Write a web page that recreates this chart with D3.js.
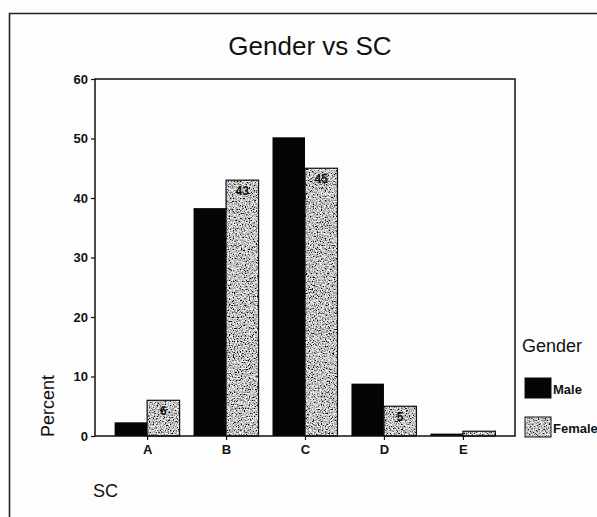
<!DOCTYPE html>
<html>
<head>
<meta charset="utf-8">
<script src="https://cdn.jsdelivr.net/npm/d3@7"></script>
<style>
  html, body { margin: 0; padding: 0; background: #fdfdfd; }
  svg { display: block; }
  text { font-family: Arial, "Liberation Sans", sans-serif; fill: #111; }
</style>
</head>
<body>
<script>
// Percent of each gender in each SC grade
const categories = ["A", "B", "C", "D", "E"];
const series = ["Male", "Female"];
const maleValues = [2.3, 38.3, 50.2, 8.8, 0.4];
const femaleValues = [6, 43, 45, 5, 0.8];
const femaleLabels = ["6", "43", "45", "5", null];
const yTicks = [0, 10, 20, 30, 40, 50, 60];

const W = 597, H = 517;
const plot = { left: 95, right: 515, top: 79, bottom: 436 };

const svg = d3.select("body").append("svg")
  .attr("width", W).attr("height", H);

// grainy grey fill for the Female bars
const defs = svg.append("defs");
const f = defs.append("filter").attr("id", "grain")
  .attr("filterUnits", "userSpaceOnUse")
  .attr("x", 0).attr("y", 0).attr("width", W).attr("height", H);
f.append("feTurbulence").attr("type", "fractalNoise")
  .attr("baseFrequency", 0.75).attr("numOctaves", 2).attr("seed", 7).attr("result", "noise");
f.append("feColorMatrix").attr("type", "matrix")
  .attr("values", "2.6 0 0 0 -0.76  2.6 0 0 0 -0.76  2.6 0 0 0 -0.76  0 0 0 0 1");
const pat = defs.append("pattern").attr("id", "femaleFill")
  .attr("patternUnits", "userSpaceOnUse").attr("width", W).attr("height", H);
pat.append("rect").attr("width", W).attr("height", H).attr("fill", "#999")
  .attr("filter", "url(#grain)");

// outer frame (left and top edges)
svg.append("path")
  .attr("d", `M9.5,${H} V13.5 H${W}`)
  .attr("fill", "none").attr("stroke", "#222").attr("stroke-width", 1.6);

svg.append("text")
  .attr("x", 310).attr("y", 55)
  .attr("text-anchor", "middle")
  .attr("font-size", 26)
  .text("Gender vs SC");

const x = d3.scalePoint().domain(categories)
  .range([plot.left, plot.right]).padding(0.66);
const y = d3.scaleLinear().domain([0, 60]).range([plot.bottom, plot.top]);
const barW = 32.5;

// axes
const yAxis = svg.append("g")
  .attr("transform", `translate(${plot.left},0)`)
  .call(d3.axisLeft(y).tickValues(yTicks).tickSize(4).tickPadding(3));
const xAxis = svg.append("g")
  .attr("transform", `translate(0,${plot.bottom})`)
  .call(d3.axisBottom(x).tickSize(4).tickPadding(5));
[yAxis, xAxis].forEach(g => {
  g.select(".domain").remove();
  g.selectAll("line").attr("stroke", "#111").attr("stroke-width", 1.2);
  g.selectAll("text").attr("font-size", 13).attr("font-weight", "bold")
    .attr("font-family", "Arial, 'Liberation Sans', sans-serif").attr("fill", "#111");
});

// bars
const rows = categories.map((c, i) => ({ c, male: maleValues[i], female: femaleValues[i], label: femaleLabels[i] }));

svg.append("g").selectAll("rect").data(rows).join("rect")
  .attr("x", d => x(d.c) - barW)
  .attr("y", d => y(d.male))
  .attr("width", barW)
  .attr("height", d => y(0) - y(d.male))
  .attr("fill", "#050505");

svg.append("g").selectAll("rect").data(rows).join("rect")
  .attr("x", d => x(d.c))
  .attr("y", d => y(d.female))
  .attr("width", barW)
  .attr("height", d => y(0) - y(d.female))
  .attr("fill", "url(#femaleFill)")
  .attr("stroke", "#111").attr("stroke-width", 1.2);

svg.append("g").selectAll("text").data(rows.filter(d => d.label)).join("text")
  .attr("x", d => x(d.c) + barW / 2)
  .attr("y", d => y(d.female) + 15)
  .attr("text-anchor", "middle")
  .attr("font-size", 12).attr("font-weight", "bold")
  .attr("fill", "#1a1a1a")
  .text(d => d.label);

// plot frame
svg.append("rect")
  .attr("x", plot.left).attr("y", plot.top)
  .attr("width", plot.right - plot.left).attr("height", plot.bottom - plot.top)
  .attr("fill", "none").attr("stroke", "#111").attr("stroke-width", 1.5);

// axis titles
svg.append("text")
  .attr("transform", `translate(54,406) rotate(-90)`)
  .attr("text-anchor", "middle")
  .attr("font-size", 18)
  .text("Percent");
svg.append("text")
  .attr("x", 93).attr("y", 497)
  .attr("font-size", 18)
  .text("SC");

// legend
const legend = svg.append("g");
legend.append("text").attr("x", 522).attr("y", 352).attr("font-size", 18).text("Gender");
const swatches = [
  { name: series[0], fill: "#050505", y: 378 },
  { name: series[1], fill: "url(#femaleFill)", y: 417 }
];
swatches.forEach(s => {
  legend.append("rect").attr("x", 525).attr("y", s.y).attr("width", 26).attr("height", 20)
    .attr("fill", s.fill).attr("stroke", "#111").attr("stroke-width", 1);
  legend.append("text").attr("x", 553).attr("y", s.y + 16)
    .attr("font-size", 13).attr("font-weight", "bold").text(s.name);
});
</script>
</body>
</html>
